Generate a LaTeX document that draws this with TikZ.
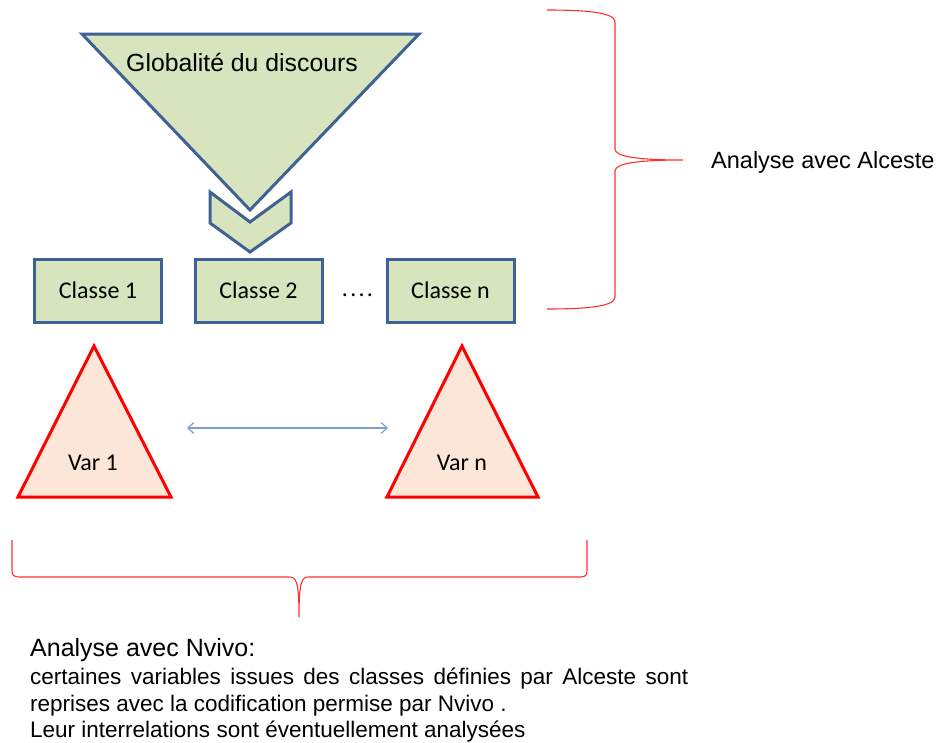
\documentclass[tikz,border=0pt]{standalone}
\usepackage{fontspec}
\setmainfont{Liberation Sans}
\newfontfamily\calib{Carlito}
\usetikzlibrary{arrows.meta}
\definecolor{gfill}{HTML}{D7E4BD}
\definecolor{gline}{HTML}{3F6294}
\definecolor{pfill}{HTML}{FCE6D8}
\definecolor{redline}{HTML}{FF0000}
\definecolor{bracered}{HTML}{FF3030}
\definecolor{arrowblue}{HTML}{7E9FD3}
\tikzset{
  gshape/.style={fill=gfill,draw=gline,line width=3pt,line join=miter},
  classbox/.style={gshape,rectangle,minimum width=127pt,minimum height=63pt,inner sep=0pt,
    font=\calib\fontsize{24}{28}\selectfont},
  vartri/.style={fill=pfill,draw=redline,line width=3pt,line join=miter},
  vartext/.style={inner sep=0pt,anchor=base,font=\calib\fontsize{24}{28}\selectfont},
  bracestyle/.style={draw=bracered,line width=1.1pt},
  txt/.style={inner sep=0pt,anchor=base west},
}
\begin{document}
\begin{tikzpicture}[x=1pt,y=-1pt]
\useasboundingbox (0,0) rectangle (950,742);
% top funnel triangle
\draw[gshape] (82,34) -- (419,34) -- (250,210) -- cycle;
\node[inner sep=0pt,anchor=base,font=\fontsize{24.8}{29}\selectfont] (glob) at (242,71) {Globalité du discours};
% chevron
\draw[gshape] (210,192) -- (250,222) -- (291,192) -- (291,223) -- (250,252) -- (210,223) -- cycle;
% classes
\node[classbox] (c1) at (98,290.5) {Classe 1};
\node[classbox] (c2) at (258.5,290.5) {Classe 2};
\node[classbox] (cn) at (450.5,290.5) {Classe n};
\node[inner sep=0pt,anchor=base,font=\calib\fontsize{24}{28}\selectfont] (dots) at (357.5,296.5) {.\kern2.3pt.\kern2.3pt.\kern2.3pt.};
% variable triangles
\draw[vartri] (94,346) -- (171,497) -- (18,497) -- cycle;
\draw[vartri] (462,346) -- (538,497) -- (387,497) -- cycle;
\node[vartext] (v1) at (93,470) {Var 1};
\node[vartext] (vn) at (462,470) {Var n};
\coordinate (a1) at (187,428);
\coordinate (a2) at (388,428);
\draw[arrowblue,line width=1.2pt,{Straight Barb[length=6pt,width=11pt]}-{Straight Barb[length=6pt,width=11pt]}] (a1) -- (a2);
% right brace
\draw[bracestyle] (547,10) .. controls (590,10) and (615,13) .. (615,22)
  -- (615,149) .. controls (615,157) and (640,160) .. (683,160)
  .. controls (640,160) and (615,163) .. (615,171)
  -- (615,297) .. controls (615,306) and (590,309) .. (547,309);
\node[txt,font=\fontsize{23.5}{28}\selectfont] (alc) at (711,168) {Analyse avec Alceste};
% bottom brace
\draw[bracestyle] (12,540) -- (12,570) .. controls (12,575) and (13,577) .. (20,577)
  -- (289,577) .. controls (296,577) and (299,580) .. (299,617)
  .. controls (299,580) and (302,577) .. (309,577)
  -- (580,577) .. controls (586,577) and (587,575) .. (587,570) -- (587,540);
% bottom text
\node[txt,font=\fontsize{25}{30}\selectfont] (nv) at (30,656) {Analyse avec Nvivo:};
\node[txt,font=\fontsize{22.5}{27}\selectfont] (l1) at (30,684) {\makebox[658pt][s]{certaines variables issues des classes définies par Alceste sont}};
\node[txt,font=\fontsize{22.5}{27}\selectfont] (l2) at (30,711) {reprises avec la codification permise par Nvivo .};
\node[txt,font=\fontsize{22.5}{27}\selectfont] (l3) at (30,737) {Leur interrelations sont éventuellement analysées};
\end{tikzpicture}
\end{document}
